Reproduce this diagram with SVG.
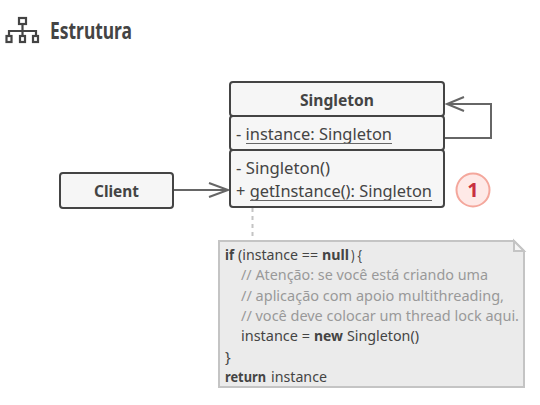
<svg xmlns="http://www.w3.org/2000/svg" width="540" height="405" viewBox="0 0 540 405">
<style>
text{font-family:"Noto Sans","Open Sans","Liberation Sans",sans-serif;font-size:16.500px;fill:#444}
.b{font-weight:700}
.box{fill:#f6f6f6;stroke:#444;stroke-width:2}
.con{fill:none;stroke:#666;stroke-width:2}
.u{fill:none;stroke:#666;stroke-width:1}
.cm{fill:#999}
.nt text{font-size:15px}
</style>
<rect width="540" height="405" fill="#fff"/>
<g id="title">
<g fill="none" stroke="#444" stroke-width="2.200">
<rect x="19" y="18" width="7" height="6"/>
<rect x="6.500" y="36" width="5" height="6"/>
<rect x="20" y="36" width="5" height="6"/>
<rect x="33" y="36" width="5" height="6"/>
<path d="M22.500 24V36M9 36V31H36V36"/>
</g>
<text x="50" y="39" class="b" style="font-size:24px" textLength="82" lengthAdjust="spacingAndGlyphs">Estrutura</text>
</g>
<g id="connectors">
<path class="con" d="M444 138H491V104H448"/>
<path class="con" d="M464 97L447 104L464 111"/>
<path class="con" d="M174 190H227"/>
<path class="con" d="M209 183L228 190L209 197"/>
<path d="M252.500 208V241" fill="none" stroke="#c4c4c4" stroke-width="2" stroke-dasharray="4 4"/>
</g>
<g id="singleton">
<rect class="box" x="230" y="82" width="214" height="34" rx="3"/>
<rect class="box" x="230" y="116" width="214" height="34" rx="3"/>
<rect class="box" x="230" y="150" width="214" height="57" rx="3"/>
<text x="337" y="105.500" class="b" text-anchor="middle" textLength="74" lengthAdjust="spacingAndGlyphs">Singleton</text>
<text x="236" y="139.500" textLength="156" lengthAdjust="spacingAndGlyphs">- instance: Singleton</text>
<path class="u" d="M246 143.500H392"/>
<text x="236" y="173.500" textLength="94" lengthAdjust="spacingAndGlyphs">- Singleton()</text>
<text x="236" y="196.500" textLength="196" lengthAdjust="spacingAndGlyphs">+ getInstance(): Singleton</text>
<path class="u" d="M250 200.500H432"/>
</g>
<g id="client">
<rect class="box" x="60" y="173" width="113" height="35" rx="3"/>
<text x="116.500" y="196.500" class="b" text-anchor="middle" textLength="45" lengthAdjust="spacingAndGlyphs">Client</text>
</g>
<g id="badge">
<circle cx="473" cy="190" r="16.500" fill="#fee9e7" stroke="#f4a79c" stroke-width="2"/>
<text x="473" y="197" class="b" text-anchor="middle" style="font-size:20px;fill:#c8303f">1</text>
</g>
<g id="note" class="nt">
<path d="M219 241H514L524 251V387H219Z" fill="#ebebeb" stroke="#c4c4c4" stroke-width="2"/>
<path d="M514 241V251H524Z" fill="#f6f6f6" stroke="#c4c4c4" stroke-width="2"/>
<text y="260"><tspan x="225" class="b" textLength="9" lengthAdjust="spacingAndGlyphs">if</tspan> <tspan x="238" textLength="80" lengthAdjust="spacingAndGlyphs">(instance ==</tspan> <tspan x="322" class="b" textLength="27" lengthAdjust="spacingAndGlyphs">null</tspan><tspan x="351" textLength="11" lengthAdjust="spacingAndGlyphs">) {</tspan></text>
<text x="241" y="280" class="cm" textLength="247" lengthAdjust="spacingAndGlyphs">// Atenção: se você está criando uma</text>
<text x="241" y="301" class="cm" textLength="263" lengthAdjust="spacingAndGlyphs">// aplicação com apoio multithreading,</text>
<text x="241" y="321" class="cm" textLength="278" lengthAdjust="spacingAndGlyphs">// você deve colocar um thread lock aqui.</text>
<text y="341"><tspan x="241" textLength="69" lengthAdjust="spacingAndGlyphs">instance =</tspan> <tspan x="314" class="b" textLength="29" lengthAdjust="spacingAndGlyphs">new</tspan> <tspan x="347" textLength="72" lengthAdjust="spacingAndGlyphs">Singleton()</tspan></text>
<text x="225" y="362">}</text>
<text y="382"><tspan x="225" class="b" textLength="41" lengthAdjust="spacingAndGlyphs">return</tspan> <tspan x="271" textLength="56" lengthAdjust="spacingAndGlyphs">instance</tspan></text>
</g>
</svg>
